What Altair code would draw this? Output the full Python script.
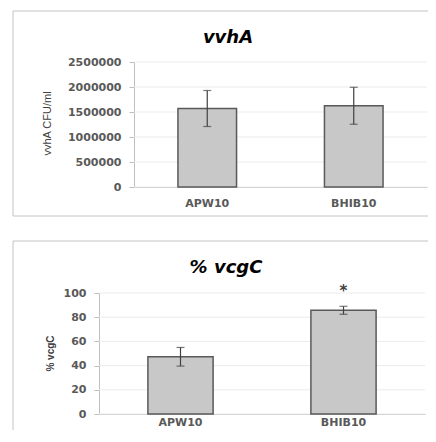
import altair as alt
import pandas as pd

categories = ["APW10", "BHIB10"]
vvha_mean = [1570000, 1625000]
vvha_err = [360000, 370000]
vcgc_mean = [47.3, 85.7]
vcgc_err = [7.7, 3.3]
vcgc_mark = ["", "*"]
vvha_ticks = [0, 500000, 1000000, 1500000, 2000000, 2500000]
vcgc_ticks = [0, 20, 40, 60, 80, 100]

FONT = "DejaVu Sans"
FRAME_COLOR = "#c4c4c4"
W, H = 420, 422  # whole drawing, in svg pixels


def make_df(means, errs, marks=None):
    df = pd.DataFrame({"cat": categories, "mean": means, "err": errs})
    df["lo"] = df["mean"] - df["err"]
    df["hi"] = df["mean"] + df["err"]
    df["mark"] = marks if marks is not None else [""] * len(categories)
    return df


def frame_layers(left, right, top, bottom, draw_bottom):
    one = alt.Chart(pd.DataFrame({"k": [0]}))
    rule = dict(color=FRAME_COLOR, strokeWidth=1)
    layers = [
        one.mark_rule(**rule).encode(x=alt.value(left), x2=alt.value(right), y=alt.value(top)),
        one.mark_rule(**rule).encode(x=alt.value(left), y=alt.value(top), y2=alt.value(bottom)),
    ]
    if draw_bottom:
        layers.append(
            one.mark_rule(**rule).encode(x=alt.value(left), x2=alt.value(right), y=alt.value(bottom))
        )
    return layers


def panel(df, ymax, ticks, ytitle, ytitle_style, title, title_pos,
          x0, x1, y_top, y_base, ytitle_pos, label_pad, star=False):
    x_axis = alt.Axis(
        orient="bottom", offset=-(H - y_base),
        title=None, labelAngle=0, ticks=False, grid=False,
        domainColor="#bfbfbf", domainWidth=1,
        labelFont=FONT, labelFontWeight="bold", labelFontSize=11,
        labelColor="#595959", labelPadding=label_pad,
    )
    y_axis = alt.Axis(
        orient="left", offset=-x0,
        values=ticks, format="d", title=ytitle, labelOverlap=False,
        domainColor="#bfbfbf", tickColor="#bfbfbf", tickSize=5, grid=False,
        labelFont=FONT, labelFontWeight="bold", labelFontSize=11,
        labelColor="#595959", labelPadding=8,
        titleX=ytitle_pos[0], titleY=ytitle_pos[1], titleBaseline="middle",
        titleAngle=270, titleAlign="center", titleColor="#404040",
        **ytitle_style,
    )

    def X(axis=None):
        return alt.X(
            "cat:N", sort=categories, axis=axis,
            scale=alt.Scale(domain=categories, range=[x0, x1],
                            paddingInner=0.6, paddingOuter=0.3),
        )

    def Y(field, axis=None):
        return alt.Y(
            field, axis=axis,
            scale=alt.Scale(domain=[0, ymax], range=[y_base, y_top], nice=False),
        )

    grid = alt.Chart(pd.DataFrame({"v": ticks})).mark_rule(
        color="#ebebeb", strokeWidth=1
    ).encode(y=Y("v:Q"), x=alt.value(x0), x2=alt.value(x1))
    base = alt.Chart(df)
    bars = base.mark_bar(fill="#c8c8c8", stroke="#595959", strokeWidth=1.5).encode(
        x=X(x_axis), y=Y("mean:Q", y_axis)
    )
    err = base.mark_rule(color="#404040", strokeWidth=1.2).encode(
        x=X(), y=Y("lo:Q"), y2="hi:Q"
    )
    cap_lo = base.mark_tick(color="#404040", size=8, thickness=1.2).encode(x=X(), y=Y("lo:Q"))
    cap_hi = base.mark_tick(color="#404040", size=8, thickness=1.2).encode(x=X(), y=Y("hi:Q"))
    layers = [grid, bars, err, cap_lo, cap_hi]
    if star:
        layers.append(
            base.mark_text(font=FONT, fontSize=15, fontWeight="bold", color="#404040",
                           baseline="middle", dy=-15).encode(
                x=X(), y=Y("hi:Q"), text="mark:N"
            )
        )
    layers.append(
        alt.Chart(pd.DataFrame({"t": [title]})).mark_text(
            font=FONT, fontSize=18, fontWeight="bold", fontStyle="italic",
            color="#000000", align="center", baseline="alphabetic",
        ).encode(x=alt.value(title_pos[0]), y=alt.value(title_pos[1]), text="t:N")
    )
    return layers


top_layers = panel(
    make_df(vvha_mean, vvha_err), 2500000, vvha_ticks, "vvhA CFU/ml",
    dict(titleFont="Liberation Sans", titleFontSize=11, titleFontWeight="normal"),
    "vvhA", (220, 35), 126, 419, 54, 179, (-87, 115), 10,
)
bottom_layers = panel(
    make_df(vcgc_mean, vcgc_err, vcgc_mark), 100, vcgc_ticks, "% vcgC",
    dict(titleFont="Liberation Sans", titleFontSize=10, titleFontWeight="bold"),
    "% vcgC", (218, 265), 91, 417, 285, 406, (-49, 345), 2, star=True,
)
frames = frame_layers(5, 440, 3, 208, True) + frame_layers(5, 440, 233, 460, False)

chart = (
    alt.layer(*top_layers, *bottom_layers, *frames)
    .resolve_scale(x="independent", y="independent")
    .resolve_axis(x="independent", y="independent")
    .properties(
        width=W, height=H, padding=0,
        autosize=alt.AutoSizeParams(type="none"),
        background="white",
    )
    .configure_view(stroke=None)
)

chart.save("out.html", embed_options={"renderer": "svg", "actions": False})
